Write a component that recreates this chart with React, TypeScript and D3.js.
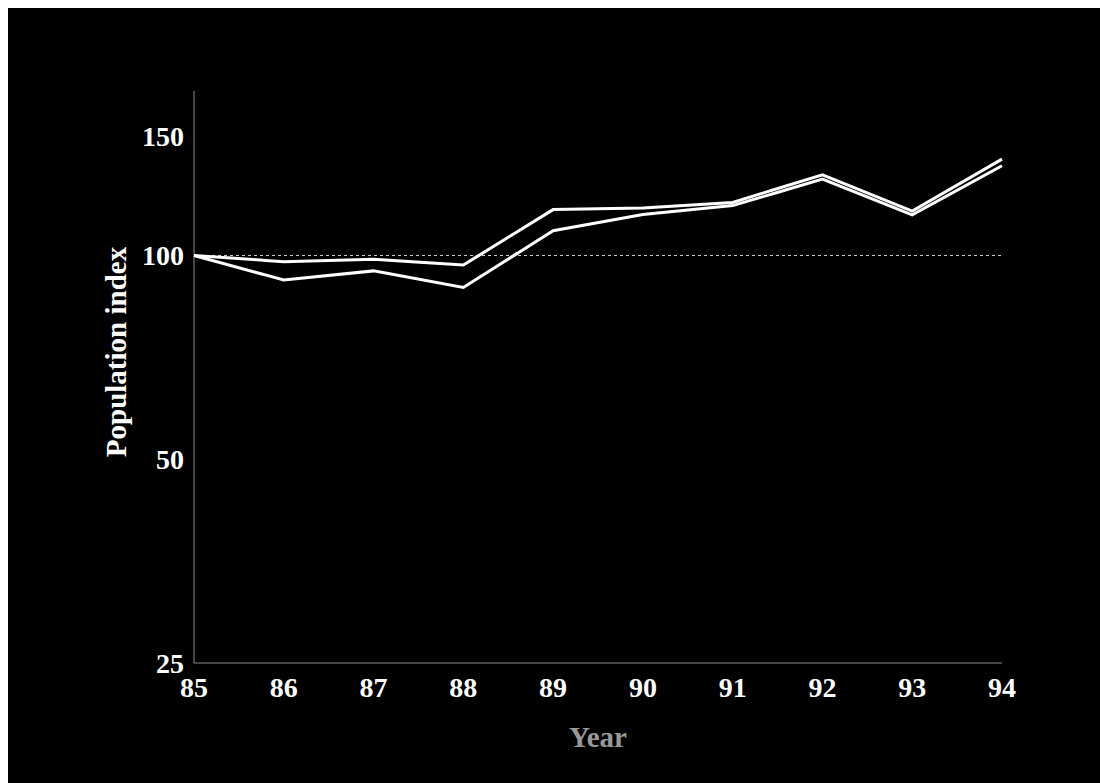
import React from "react";
import * as d3 from "d3";

// Population index by year (1985 = 100), two series
const years = [85, 86, 87, 88, 89, 90, 91, 92, 93, 94];
const seriesA = [100, 97.9, 98.7, 96.8, 116.9, 117.5, 119.8, 131.6, 116.3, 138.8];
const seriesB = [100, 92.0, 94.9, 89.7, 108.8, 115.0, 118.5, 129.7, 114.8, 135.7];
const yTicks = [25, 50, 100, 150];

const W = 1092;
const H = 775;
const OX = 8; // page offset of the svg
const OY = 8;

export default function App() {
  const x = d3.scaleLinear().domain([85, 94]).range([194 - OX, 1002 - OX]);
  const y = d3.scaleLog().domain([25, 175]).range([663 - OY, 91 - OY]);

  const line = d3
    .line<number>()
    .x((_, i) => x(years[i]))
    .y((d) => y(d));

  const font = "'Liberation Serif', 'Times New Roman', serif";
  const [x0, x1] = x.range();
  const [yb, yt] = y.range();

  return (
    <svg
      width={W}
      height={H}
      style={{ position: "fixed", left: OX, top: OY, display: "block", background: "#000" }}
      fontFamily={font}
    >
      <rect x={0} y={0} width={W} height={H} fill="#000" />

      {/* axes */}
      <line x1={x0} x2={x0} y1={yt} y2={yb} stroke="#8a8a8a" strokeWidth={1} />
      <line x1={x0} x2={x1} y1={yb} y2={yb} stroke="#8a8a8a" strokeWidth={1} />

      {/* reference level at 100 */}
      <line
        x1={x0}
        x2={x1}
        y1={y(100)}
        y2={y(100)}
        stroke="#cfcfcf"
        strokeWidth={1}
        strokeDasharray="3,3"
      />

      {/* y tick labels */}
      {yTicks.map((t) => (
        <text
          key={t}
          x={x0 - 10}
          y={y(t)}
          dy="0.35em"
          textAnchor="end"
          fill="#fff"
          fontWeight="bold"
          fontSize={28}
        >
          {t}
        </text>
      ))}

      {/* x tick labels */}
      {years.map((yr) => (
        <text
          key={yr}
          x={x(yr)}
          y={697 - OY}
          textAnchor="middle"
          fill="#fff"
          fontWeight="bold"
          fontSize={28}
        >
          {yr}
        </text>
      ))}

      {/* axis titles */}
      <text
        x={(x0 + x1) / 2}
        y={747 - OY}
        textAnchor="middle"
        fill="#999"
        fontWeight="bold"
        fontSize={29}
      >
        Year
      </text>
      <text
        transform={`translate(${126 - OX},${352 - OY}) rotate(-90)`}
        textAnchor="middle"
        fill="#fff"
        fontWeight="bold"
        fontSize={29}
      >
        Population index
      </text>

      {/* series */}
      <path d={line(seriesB) ?? ""} fill="none" stroke="#fff" strokeWidth={3} strokeLinejoin="miter" />
      <path d={line(seriesA) ?? ""} fill="none" stroke="#fff" strokeWidth={3} strokeLinejoin="miter" />
    </svg>
  );
}
